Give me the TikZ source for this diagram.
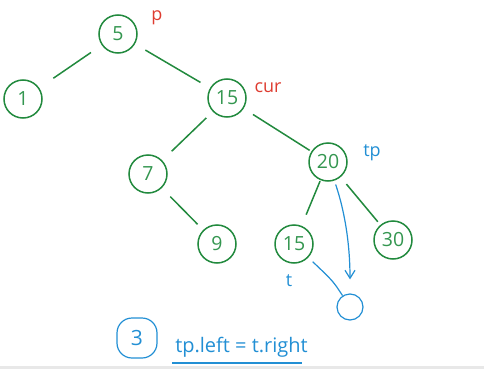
\documentclass[tikz,border=0pt]{standalone}
\usepackage{fontspec}
\setmainfont{Open Sans}
\usetikzlibrary{arrows.meta}
\definecolor{tgreen}{RGB}{34,138,62}
\definecolor{tgreentext}{RGB}{52,150,80}
\definecolor{tred}{RGB}{222,60,48}
\definecolor{tblue}{RGB}{34,143,212}
\definecolor{tgray}{RGB}{232,232,232}
\begin{document}
\begin{tikzpicture}[x=1pt,y=-1pt,
  tnode/.style={circle,draw=tgreen,line width=1.5pt,minimum size=38pt,inner sep=0pt,
    text=tgreentext,font=\fontsize{19.5}{19.5}\selectfont},
  nullnode/.style={circle,draw=tblue,line width=1.2pt,minimum size=26pt,inner sep=0pt},
  edge/.style={draw=tgreen,line width=1.5pt},
  redlbl/.style={text=tred,font=\fontsize{18}{18}\selectfont,anchor=base,inner sep=0pt},
  bluelbl/.style={text=tblue,font=\fontsize{18}{18}\selectfont,anchor=base,inner sep=0pt},
  blueline/.style={draw=tblue,line width=1.2pt},
  stepmark/.style={rectangle,rounded corners=15pt,draw=tblue,line width=1.2pt,
    minimum width=40pt,minimum height=40pt,inner sep=0pt,text=tblue,
    font=\fontsize{21}{21}\selectfont}]
\useasboundingbox (0,0) rectangle (484,369);
\fill[tgray] (0,366) rectangle (484,369);

% tree nodes
\node[tnode] (n5)   at (118,34)  {5};
\node[tnode] (n1)   at (23,99)   {1};
\node[tnode] (n15)  at (227,98)  {15};
\node[tnode] (n7)   at (148,174) {7};
\node[tnode] (n20)  at (328,162) {20};
\node[tnode] (n9)   at (217,244) {9};
\node[tnode] (n15t) at (294,244) {15};
\node[tnode] (n30)  at (393,240) {30};
\node[nullnode] (null) at (350,307) {};

% edges
\draw[edge,shorten <=13pt,shorten >=17pt] (n5) -- (n1);
\draw[edge,shorten <=12pt,shorten >=11pt] (n5) -- (n15);
\draw[edge,shorten <=9pt,shorten >=13pt] (n15) -- (n7);
\draw[edge,shorten <=11pt,shorten >=2pt] (n15) -- (n20);
\draw[edge,shorten <=12pt,shorten >=8pt] (n7) -- (n9);
\draw[edge,shorten <=1pt,shorten >=12pt] (n20) -- (n15t);
\draw[edge,shorten <=9pt,shorten >=4pt] (n20) -- (n30);

% labels
\node[redlbl]  (lp)   at (157,21)  {p};
\node[redlbl]  (lcur) at (268,92)  {cur};
\node[bluelbl] (ltp)  at (372,156) {tp};
\node[bluelbl] (lt)   at (289,286) {t};

% blue pointers
\draw[blueline,-{Straight Barb[length=8pt,width=10pt]},shorten <=4pt,shorten >=14pt]
  (n20) .. controls (345,212) and (350,245) .. (null);
\draw[blueline,shorten <=6pt] (n15t) .. controls (333,281) .. (null);

% step annotation
\node[stepmark] (step3) at (137,338) {3};
\node[text=tblue,font=\fontsize{20}{20}\selectfont,anchor=base,inner sep=0pt]
  (code) at (241.5,352) {tp.left = t.right};
\draw[blueline] (172,363) -- (302,363);
\end{tikzpicture}
\end{document}
